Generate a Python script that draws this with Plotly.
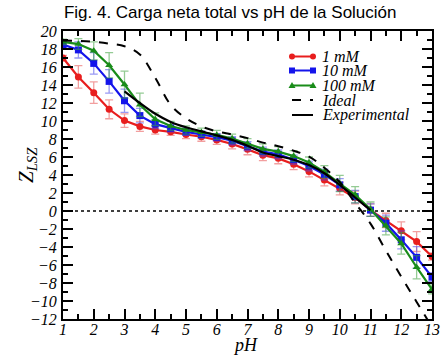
import plotly.graph_objects as go

ph = [1, 1.5, 2, 2.5, 3, 3.5, 4, 4.5, 5, 5.5, 6, 6.5, 7, 7.5, 8, 8.5, 9, 9.5, 10, 10.5, 11, 11.5, 12, 12.5, 13]

z_1mM = [17.0, 14.9, 13.15, 11.3, 10.05, 9.4, 9.0, 8.8, 8.5, 8.25, 7.9, 7.45, 6.85,
         6.2, 5.85, 5.2, 4.4, 3.45, 2.5, 1.5, 0.1, -1.05, -2.2, -3.4, -5.05]
err_1mM = [0.3, 1.25, 1.2, 1.05, 0.75, 0.55, 0.45, 0.4, 0.45, 0.5, 0.5, 0.55, 0.6,
           0.6, 0.6, 0.6, 0.6, 0.65, 0.7, 0.7, 0.7, 0.8, 1.0, 1.1, 0.4]

z_10mM = [18.5, 17.9, 16.4, 14.4, 12.25, 10.6, 9.65, 9.2, 8.8, 8.5, 8.2, 7.8, 7.2,
          6.6, 6.3, 5.7, 5.0, 4.05, 2.9, 1.6, 0.1, -1.35, -3.2, -5.15, -7.35]
err_10mM = [0.3, 0.9, 1.2, 1.3, 1.3, 0.8, 0.5, 0.4, 0.4, 0.4, 0.4, 0.45, 0.5,
            0.5, 0.5, 0.5, 0.55, 0.6, 0.7, 0.7, 0.7, 0.9, 1.0, 1.2, 0.5]

z_100mM = [18.8, 18.55, 17.8, 16.2, 14.05, 11.8, 10.2, 9.45, 9.0, 8.75, 8.45, 8.05, 7.5,
           6.9, 6.6, 6.1, 5.4, 4.35, 3.05, 1.8, 0.2, -1.65, -3.6, -6.25, -8.7]
err_100mM = [0.3, 0.6, 1.0, 1.4, 1.5, 1.3, 0.7, 0.5, 0.45, 0.45, 0.5, 0.5, 0.55,
             0.55, 0.55, 0.6, 0.6, 0.7, 0.9, 0.9, 0.8, 1.0, 1.2, 1.3, 0.5]

z_ideal = [18.95, 18.9, 18.8, 18.6, 18.3, 17.4, 14.8, 11.8, 10.3, 9.4, 8.85, 8.5, 8.1,
           7.6, 7.2, 6.7, 6.05, 4.8, 3.2, 0.9, -1.4, -4.4, -7.3, -10.1, -12.9]

ph_exp = [3, 3.5, 4, 4.5, 5, 5.5, 6, 6.5, 7, 7.5, 8, 8.5, 9, 9.5, 10, 10.5, 11]
z_exp = [13.3, 12.0, 10.8, 9.9, 9.3, 8.85, 8.4, 7.9, 7.25, 6.5, 6.1, 5.7, 5.1, 4.2, 2.9, 1.5, 0.1]

labels = ["1 mM", "10 mM", "100 mM", "Ideal", "Experimental"]

serif = "Liberation Serif"
W, H = 441, 355
ML, MR, MT, MB = 63, 9, 31, 36
PW, PH_ = W - ML - MR, H - MT - MB


def px(xp):
    return (xp - ML) / PW


def py(yp):
    return (H - MB - yp) / PH_


fig = go.Figure()

colors = ["rgb(232,30,30)", "rgb(20,20,235)", "rgb(25,140,25)"]
ecolors = ["rgba(232,80,80,0.55)", "rgba(70,70,235,0.55)", "rgba(60,160,60,0.55)"]
symbols = ["circle", "square", "triangle-up"]
series = [(z_1mM, err_1mM), (z_10mM, err_10mM), (z_100mM, err_100mM)]
for i, (z, e) in enumerate(series):
    fig.add_trace(go.Scatter(
        x=ph, y=z, name=labels[i], mode="lines+markers", showlegend=False,
        line=dict(color=colors[i], width=2.2),
        marker=dict(symbol=symbols[i], size=7, color=colors[i]),
        error_y=dict(type="data", array=e, visible=True, color=ecolors[i], thickness=1.3, width=4),
    ))

fig.add_trace(go.Scatter(x=ph, y=z_ideal, name=labels[3], mode="lines", showlegend=False,
                         line=dict(color="black", width=2, dash="dash", shape="spline")))
fig.add_trace(go.Scatter(x=ph_exp, y=z_exp, name=labels[4], mode="lines", showlegend=False,
                         line=dict(color="black", width=2.2, shape="spline")))

fig.add_shape(type="line", xref="paper", x0=0, x1=1, yref="y", y0=0, y1=0,
              line=dict(color="black", width=1.5, dash="dot"), layer="below")

# manual legend
rows = [56.5, 70.5, 85.5, 100.0, 115.0]
lx0, lx1, tx = 292, 313, 320
for i, (lab, ry) in enumerate(zip(labels, rows)):
    if i < 3:
        col = colors[i]
        fig.add_shape(type="line", xref="paper", yref="paper", x0=px(lx0), x1=px(lx1),
                      y0=py(ry), y1=py(ry), line=dict(color=col, width=2))
        r = 3
        for cx in (lx0, lx1):
            if i == 0:
                fig.add_shape(type="circle", xref="paper", yref="paper",
                              x0=px(cx - r), x1=px(cx + r), y0=py(ry + r), y1=py(ry - r),
                              fillcolor=col, line=dict(color=col, width=0))
            elif i == 1:
                fig.add_shape(type="rect", xref="paper", yref="paper",
                              x0=px(cx - r), x1=px(cx + r), y0=py(ry + r), y1=py(ry - r),
                              fillcolor=col, line=dict(color=col, width=0))
            else:
                path = "M {} {} L {} {} L {} {} Z".format(
                    px(cx - r - 0.5), py(ry + 2.5), px(cx + r + 0.5), py(ry + 2.5), px(cx), py(ry - 3.5))
                fig.add_shape(type="path", xref="paper", yref="paper", path=path,
                              fillcolor=col, line=dict(color=col, width=0))
    else:
        fig.add_shape(type="line", xref="paper", yref="paper", x0=px(lx0), x1=px(lx1),
                      y0=py(ry), y1=py(ry),
                      line=dict(color="black", width=2, dash="dash" if i == 3 else "solid"))
    fig.add_annotation(text=lab, xref="paper", yref="paper", x=px(tx), y=py(ry),
                       xanchor="left", yanchor="middle", showarrow=False,
                       font=dict(family=serif, size=16, color="black", style="italic"))

# axis titles
fig.add_annotation(text="pH", xref="paper", yref="paper", x=px(245), y=py(344.5),
                   xanchor="center", yanchor="middle", showarrow=False,
                   font=dict(family=serif, size=18, color="black", style="italic"))
fig.add_annotation(text="Z<sub>LSZ</sub>", xref="paper", yref="paper", x=px(27), y=py(165),
                   xanchor="center", yanchor="middle", showarrow=False, textangle=-90,
                   font=dict(family=serif, size=21, color="black", style="italic"))

axis_common = dict(
    showline=True, linecolor="black", linewidth=2, mirror="allticks",
    ticks="inside", ticklen=10, tickwidth=2, tickcolor="black",
    showgrid=False, zeroline=False, automargin=False,
    tickfont=dict(family=serif, size=16, color="black", style="italic"),
)

fig.update_xaxes(range=[1, 13], dtick=1, tick0=1, ticklabelstandoff=-5,
                 minor=dict(dtick=0.5, ticks="inside", ticklen=5, tickwidth=2, tickcolor="black", showgrid=False),
                 **axis_common)
fig.update_yaxes(range=[-12, 20], dtick=2, tick0=0, ticklabelstandoff=1,
                 minor=dict(dtick=1, ticks="inside", ticklen=5, tickwidth=2, tickcolor="black", showgrid=False),
                 **axis_common)

fig.update_layout(
    width=W, height=H,
    margin=dict(l=ML, r=MR, t=MT, b=MB),
    plot_bgcolor="white", paper_bgcolor="white",
    title=dict(text="Fig. 4. Carga neta total vs pH de la Solución",
               font=dict(family="Liberation Sans", size=17, color="black"),
               x=0.522, xanchor="center", y=1 - 12 / H, yanchor="middle"),
    showlegend=False,
)

fig.write_html("out.html")
